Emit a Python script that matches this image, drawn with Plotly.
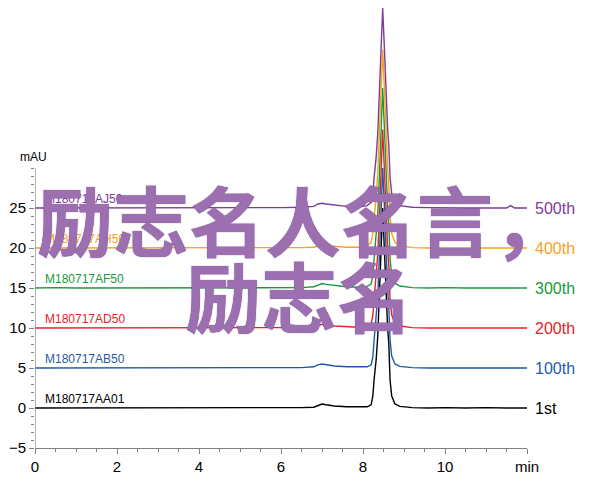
import plotly.graph_objects as go

# retention time (min)
time_min = [0.0, 0.5, 1.0, 1.5, 2.0, 2.5, 3.0, 3.5, 4.0, 4.5,
            5.0, 5.5, 6.0, 6.5, 6.8, 6.9, 7.0, 7.1, 7.3, 7.6,
            7.9, 8.1, 8.2, 8.24, 8.27, 8.32, 8.36, 8.40, 8.44, 8.48,
            8.52, 8.56, 8.60, 8.63, 8.66, 8.70, 8.78, 8.9, 9.2, 9.6,
            10.0, 10.5, 11.0, 11.5, 11.6, 11.7, 12.0]

# absorbance (mAU), each run drawn with its stacking offset
run_1st = [0.0, 0.0, 0.05, 0.0, 0.05, 0.0, 0.05, 0.0, 0.05, 0.0,
           0.05, 0.0, 0.05, 0.05, 0.1, 0.35, 0.5, 0.4, 0.25, 0.15,
           0.1, 0.15, 0.4, 1.5, 3.5, 6.0, 9.0, 14.0, 20.0, 25.0,
           20.0, 14.0, 10.0, 8.0, 3.5, 1.5, 0.5, 0.2, 0.05, 0.0,
           0.05, 0.0, 0.05, 0.0, 0.0, 0.0, 0.0]
run_100th = [5.0, 5.0, 5.0, 5.05, 5.0, 5.0, 5.05, 5.0, 5.0, 5.05,
             5.0, 5.0, 5.05, 5.05, 5.15, 5.4, 5.5, 5.4, 5.25, 5.15,
             5.1, 5.15, 5.4, 6.4, 8.4, 11.0, 14.0, 19.0, 25.0, 30.0,
             25.5, 19.0, 15.0, 12.5, 8.5, 6.5, 5.5, 5.2, 5.05, 5.0,
             5.0, 5.0, 5.0, 5.0, 5.0, 5.0, 5.0]
run_200th = [10.0, 10.0, 10.0, 10.0, 10.05, 10.0, 10.0, 10.0, 10.05, 10.0,
             10.0, 10.0, 10.0, 10.05, 10.1, 10.35, 10.45, 10.35, 10.25, 10.15,
             10.1, 10.2, 10.5, 11.6, 13.6, 16.2, 19.2, 24.0, 30.0, 34.8,
             30.0, 24.2, 20.0, 17.8, 13.6, 11.6, 10.6, 10.25, 10.05, 10.0,
             10.0, 10.0, 10.0, 10.0, 10.0, 10.0, 10.0]
run_300th = [15.0, 15.05, 15.0, 15.0, 15.05, 15.0, 15.05, 15.0, 15.0, 15.05,
             15.0, 15.05, 15.0, 15.05, 15.15, 15.4, 15.55, 15.45, 15.3, 15.15,
             15.1, 15.2, 15.5, 16.6, 18.6, 21.2, 24.2, 29.0, 35.0, 40.0,
             35.2, 29.0, 25.0, 22.8, 18.6, 16.6, 15.6, 15.25, 15.05, 15.0,
             15.05, 15.0, 15.0, 15.05, 15.0, 15.0, 15.0]
run_400th = [20.0, 20.0, 20.0, 20.0, 20.0, 20.0, 20.0, 20.0, 20.0, 20.0,
             20.0, 20.0, 20.0, 20.05, 20.1, 20.3, 20.4, 20.3, 20.2, 20.1,
             20.1, 20.3, 20.7, 21.8, 23.8, 26.3, 29.3, 34.0, 40.0, 44.8,
             40.2, 34.2, 30.0, 27.8, 23.8, 21.8, 20.7, 20.3, 20.05, 20.0,
             20.0, 20.0, 20.0, 20.0, 20.0, 20.0, 20.0]
run_500th = [25.0, 25.0, 25.0, 25.0, 25.0, 25.0, 25.0, 25.0, 25.0, 25.0,
             25.0, 25.0, 25.05, 25.1, 25.2, 25.5, 25.6, 25.5, 25.35, 25.2,
             25.15, 25.3, 25.7, 26.8, 28.8, 31.3, 34.3, 39.0, 45.0, 50.0,
             45.2, 39.2, 35.0, 32.8, 28.8, 26.8, 25.7, 25.3, 25.1, 25.05,
             25.0, 25.0, 25.0, 25.0, 25.3, 25.0, 25.0]

sample_names = ["M180717AA01", "M180717AB50", "M180717AD50",
                "M180717AF50", "M180717AH50", "M180717AJ50"]
run_labels = ["1st", "100th", "200th", "300th", "400th", "500th"]
baselines = [0, 5, 10, 15, 20, 25]
series = [run_1st, run_100th, run_200th, run_300th, run_400th, run_500th]
colors = ["#000000", "#1f5aa6", "#e8202a", "#1a9a3c", "#f7a21b", "#7d3c98"]

x_tickvals = [0, 2, 4, 6, 8, 10, 12]
x_ticktext = ["0", "2", "4", "6", "8", "10", "min"]
y_tickvals = [-5, 0, 5, 10, 15, 20, 25]

watermark_line1 = "励志名人名言，"
watermark_line2 = "励志名"

FONT = "Liberation Sans, Arial, sans-serif"

fig = go.Figure()
for ys, c in zip(series, colors):
    fig.add_trace(go.Scatter(x=time_min, y=ys, mode="lines",
                             line=dict(color=c, width=1.4),
                             showlegend=False, hoverinfo="skip"))

annotations = []
for name, lab, b, c in zip(sample_names, run_labels, baselines, colors):
    annotations.append(dict(x=0.2, y=b, xref="x", yref="y", text=name,
                            showarrow=False, xanchor="left", yanchor="bottom",
                            yshift=0, font=dict(family=FONT, size=12, color=c)))
    annotations.append(dict(x=12, y=b, xref="x", yref="y", text=lab,
                            showarrow=False, xanchor="left", yanchor="middle",
                            xshift=6, font=dict(family=FONT, size=16, color=c)))

annotations.append(dict(x=0, y=31.4, xref="x", yref="y", text="mAU",
                        showarrow=False, xanchor="center", yanchor="middle",
                        xshift=-2, font=dict(family=FONT, size=12, color="#000")))

wm_font = dict(family="Noto Sans CJK SC", size=76, weight=700, color="#9c6fb0",
               shadow="0 0 1px #5e2a78")
annotations.append(dict(x=0, y=23.7, xref="x", yref="y", text=watermark_line1,
                        showarrow=False, xanchor="left", yanchor="middle",
                        xshift=0, font=wm_font))
annotations.append(dict(x=0, y=14.3, xref="x", yref="y", text=watermark_line2,
                        showarrow=False, xanchor="left", yanchor="middle",
                        xshift=148, font=wm_font))

fig.update_layout(
    width=600, height=504,
    margin=dict(l=35, r=73, t=0, b=56),
    paper_bgcolor="white", plot_bgcolor="white",
    annotations=annotations,
    shapes=[dict(type="line", xref="x", yref="y", x0=0, x1=0, y0=-5, y1=30,
                 line=dict(color="#808080", width=1.2), layer="above")],
    xaxis=dict(range=[0, 12], showgrid=False, zeroline=False,
               showline=True, linecolor="#808080", linewidth=1.2,
               tickmode="array", tickvals=x_tickvals, ticktext=x_ticktext,
               ticks="outside", ticklen=5, tickcolor="#808080", tickwidth=1,
               tickfont=dict(family=FONT, size=15, color="#000"),
               minor=dict(tickmode="array",
                          tickvals=[v / 2 for v in range(0, 25)],
                          ticks="outside", ticklen=3, tickcolor="#808080"),
               fixedrange=True),
    yaxis=dict(range=[-5, 51], showgrid=False, zeroline=False, showline=False,
               tickmode="array", tickvals=y_tickvals,
               ticks="outside", ticklen=5, tickcolor="#808080", tickwidth=1,
               tickfont=dict(family=FONT, size=15, color="#000"),
               minor=dict(tickmode="array", tickvals=list(range(-5, 31)),
                          ticks="outside", ticklen=3, tickcolor="#808080"),
               fixedrange=True),
)

fig.write_html("out.html")
